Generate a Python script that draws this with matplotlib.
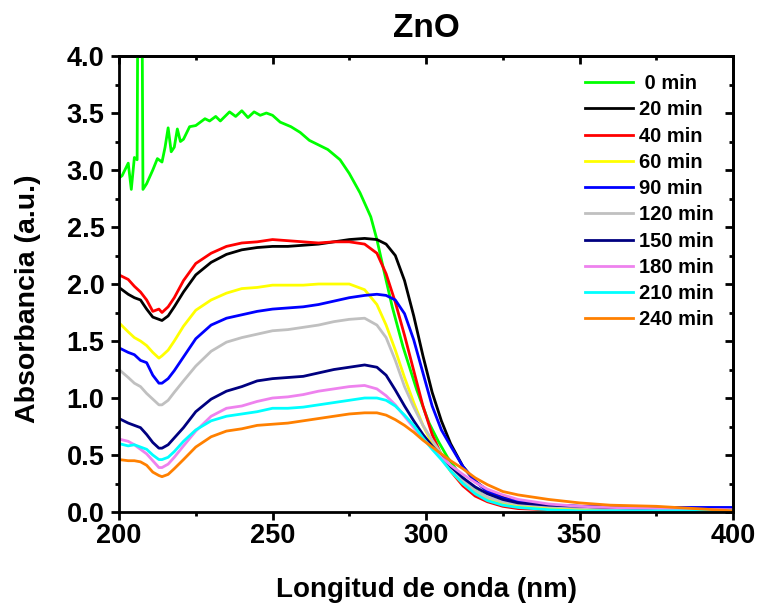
import matplotlib
matplotlib.use("Agg")
import matplotlib.pyplot as plt
from matplotlib.ticker import MultipleLocator

plt.rcParams['font.family'] = ['Liberation Sans', 'DejaVu Sans']
plt.rcParams['font.weight'] = 'bold'

# Common wavelength grid (nm)
wl = [200, 203, 205, 207, 209, 211, 213, 214, 216, 218, 221, 225, 230, 235, 240, 245,
      250, 255, 260, 265, 270, 275, 280, 284, 287, 290, 293, 296, 299, 302, 305, 308,
      312, 316, 320, 325, 330, 340, 350, 360, 375, 400]

# 0 min has its own sampling (noisy start, detector spike)
wl_0 = [200, 201, 203, 204, 205, 205.9, 206.2, 207.4, 207.8, 209, 210, 211, 212.5, 214, 215,
        216, 217, 218, 219, 220, 221, 223, 225, 228, 229.5, 231.5, 233, 236, 238, 240, 242,
        244, 246, 248, 250, 252.5, 256, 259, 262, 265, 268, 272, 275, 278.5, 282, 284, 286,
        289, 292.5, 297, 301, 304, 307, 311, 315, 320, 325, 330, 340, 350, 360, 375, 400]
abs_0 = [2.93, 2.95, 3.06, 2.83, 3.11, 3.09, 5.0, 5.0, 2.83, 2.88, 2.94, 3.00, 3.10, 3.07, 3.20,
         3.37, 3.16, 3.20, 3.36, 3.25, 3.27, 3.38, 3.39, 3.45, 3.43, 3.47, 3.43, 3.51, 3.47, 3.52, 3.46,
         3.51, 3.48, 3.50, 3.48, 3.42, 3.38, 3.33, 3.26, 3.22, 3.18, 3.09, 2.97, 2.80, 2.59, 2.39, 2.15,
         1.80, 1.45, 1.07, 0.78, 0.62, 0.48, 0.33, 0.22, 0.12, 0.07, 0.04, 0.02, 0.01, 0.01, 0.01, 0.01]

abs_20 = [1.97, 1.91, 1.88, 1.86, 1.78, 1.71, 1.69, 1.68, 1.72, 1.80, 1.93, 2.08, 2.19, 2.26, 2.30, 2.32,
          2.33, 2.33, 2.34, 2.35, 2.37, 2.39, 2.40, 2.39, 2.35, 2.25, 2.03, 1.72, 1.37, 1.05, 0.80, 0.60,
          0.40, 0.27, 0.19, 0.13, 0.10, 0.06, 0.04, 0.03, 0.02, 0.02]
abs_40 = [2.08, 2.04, 1.98, 1.93, 1.86, 1.76, 1.78, 1.75, 1.80, 1.88, 2.03, 2.18, 2.27, 2.33, 2.36, 2.37,
          2.39, 2.38, 2.37, 2.36, 2.37, 2.37, 2.35, 2.27, 2.09, 1.84, 1.55, 1.24, 0.93, 0.68, 0.50, 0.36,
          0.23, 0.14, 0.09, 0.05, 0.03, 0.02, 0.01, 0.01, 0.01, 0.01]
abs_60 = [1.66, 1.58, 1.53, 1.50, 1.46, 1.40, 1.35, 1.37, 1.42, 1.50, 1.63, 1.77, 1.86, 1.92, 1.96, 1.97,
          1.99, 1.99, 1.99, 2.00, 2.00, 2.00, 1.95, 1.82, 1.64, 1.42, 1.18, 0.96, 0.76, 0.60, 0.47, 0.36,
          0.25, 0.17, 0.12, 0.08, 0.05, 0.03, 0.02, 0.01, 0.01, 0.01]
abs_90 = [1.44, 1.40, 1.38, 1.33, 1.31, 1.20, 1.13, 1.13, 1.17, 1.24, 1.36, 1.52, 1.64, 1.70, 1.73, 1.76,
          1.78, 1.79, 1.80, 1.82, 1.85, 1.88, 1.90, 1.91, 1.90, 1.86, 1.74, 1.51, 1.22, 0.93, 0.72, 0.58,
          0.40, 0.27, 0.18, 0.12, 0.09, 0.06, 0.05, 0.05, 0.04, 0.04]
abs_120 = [1.25, 1.18, 1.13, 1.10, 1.04, 0.99, 0.94, 0.94, 0.98, 1.05, 1.15, 1.28, 1.41, 1.49, 1.53, 1.56,
           1.59, 1.60, 1.62, 1.64, 1.67, 1.69, 1.70, 1.64, 1.53, 1.33, 1.10, 0.92, 0.76, 0.63, 0.51, 0.40,
           0.28, 0.19, 0.13, 0.09, 0.07, 0.05, 0.04, 0.03, 0.02, 0.02]
abs_150 = [0.82, 0.78, 0.76, 0.74, 0.68, 0.61, 0.56, 0.56, 0.59, 0.65, 0.74, 0.88, 0.99, 1.06, 1.10, 1.15,
           1.17, 1.18, 1.19, 1.22, 1.25, 1.27, 1.29, 1.27, 1.20, 1.07, 0.93, 0.80, 0.68, 0.58, 0.49, 0.40,
           0.30, 0.22, 0.16, 0.11, 0.08, 0.06, 0.05, 0.04, 0.03, 0.02]
abs_180 = [0.64, 0.62, 0.59, 0.55, 0.51, 0.45, 0.39, 0.39, 0.42, 0.48, 0.58, 0.71, 0.84, 0.91, 0.93, 0.97,
           1.00, 1.01, 1.03, 1.06, 1.08, 1.10, 1.11, 1.08, 1.02, 0.94, 0.84, 0.74, 0.64, 0.56, 0.48, 0.41,
           0.33, 0.26, 0.20, 0.15, 0.11, 0.07, 0.05, 0.04, 0.03, 0.02]
abs_210 = [0.60, 0.58, 0.59, 0.57, 0.55, 0.50, 0.46, 0.46, 0.48, 0.53, 0.62, 0.72, 0.80, 0.84, 0.86, 0.88,
           0.91, 0.91, 0.92, 0.94, 0.96, 0.98, 1.00, 1.00, 0.98, 0.93, 0.85, 0.76, 0.65, 0.55, 0.46, 0.36,
           0.25, 0.16, 0.10, 0.06, 0.04, 0.02, 0.01, 0.01, 0.01, 0.01]
abs_240 = [0.46, 0.45, 0.45, 0.44, 0.41, 0.35, 0.32, 0.31, 0.33, 0.38, 0.46, 0.57, 0.66, 0.71, 0.73, 0.76,
           0.77, 0.78, 0.80, 0.82, 0.84, 0.86, 0.87, 0.87, 0.85, 0.81, 0.76, 0.70, 0.63, 0.57, 0.51, 0.45,
           0.38, 0.30, 0.24, 0.18, 0.15, 0.11, 0.08, 0.06, 0.05, 0.01]

labels = [" 0 min", "20 min", "40 min", "60 min", "90 min", "120 min", "150 min",
          "180 min", "210 min", "240 min"]
colors = ["#00ff00", "#000000", "#ff0000", "#ffff00", "#0000ff", "#c0c0c0", "#000080",
          "#ee82ee", "#00ffff", "#ff8000"]

fig = plt.figure(figsize=(7.6, 6.03), dpi=100)
ax = fig.add_axes([0.1566, 0.1509, 0.8079, 0.7562])

series = [(wl_0, abs_0), (wl, abs_20), (wl, abs_40), (wl, abs_60), (wl, abs_90),
          (wl, abs_120), (wl, abs_150), (wl, abs_180), (wl, abs_210), (wl, abs_240)]
for (x, y), lab, c in zip(series, labels, colors):
    ax.plot(x, y, color=c, lw=2.0, label=lab)

ax.set_xlim(200, 400)
ax.set_ylim(0, 4.0)
ax.xaxis.set_major_locator(MultipleLocator(50))
ax.xaxis.set_minor_locator(MultipleLocator(25))
ax.yaxis.set_major_locator(MultipleLocator(0.5))
ax.yaxis.set_minor_locator(MultipleLocator(0.25))
ax.yaxis.set_major_formatter(matplotlib.ticker.FormatStrFormatter('%.1f'))
for s in ax.spines.values():
    s.set_linewidth(2.0)
ax.tick_params(which='major', direction='out', length=5.5, width=2.0, labelsize=19.5)
ax.tick_params(axis='x', which='major', pad=2.5)
ax.tick_params(axis='y', which='major', pad=5)
ax.tick_params(which='minor', direction='out', length=3, width=2.0)
for lab in ax.get_xticklabels() + ax.get_yticklabels():
    lab.set_fontweight('bold')

# mirrored inward ticks on top/right
top = ax.secondary_xaxis('top')
top.xaxis.set_major_locator(MultipleLocator(50))
top.xaxis.set_minor_locator(MultipleLocator(25))
top.tick_params(which='major', direction='in', length=5.5, width=2.0, labeltop=False)
top.tick_params(which='minor', direction='in', length=3, width=2.0)
right = ax.secondary_yaxis('right')
right.yaxis.set_major_locator(MultipleLocator(0.5))
right.yaxis.set_minor_locator(MultipleLocator(0.25))
right.tick_params(which='major', direction='in', length=5.5, width=2.0, labelright=False)
right.tick_params(which='minor', direction='in', length=3, width=2.0)
for s in list(top.spines.values()) + list(right.spines.values()):
    s.set_linewidth(2.0)

ax.set_xlabel("Longitud de onda (nm)", fontsize=20, fontweight='bold', labelpad=20)
ax.set_ylabel("Absorbancia (a.u.)", fontsize=20.5, fontweight='bold')
ax.yaxis.set_label_coords(-0.127, 0.467)
ax.set_title("ZnO", fontsize=24, fontweight='bold', pad=14, y=1.0)

leg = ax.legend(loc='upper left', frameon=False, prop={'weight': 'bold', 'size': 14.5},
                handlelength=2.4, handletextpad=0.3, labelspacing=0.36,
                borderaxespad=0.0, bbox_to_anchor=(0.746, 0.978))

fig.savefig("out.png", dpi=100)
